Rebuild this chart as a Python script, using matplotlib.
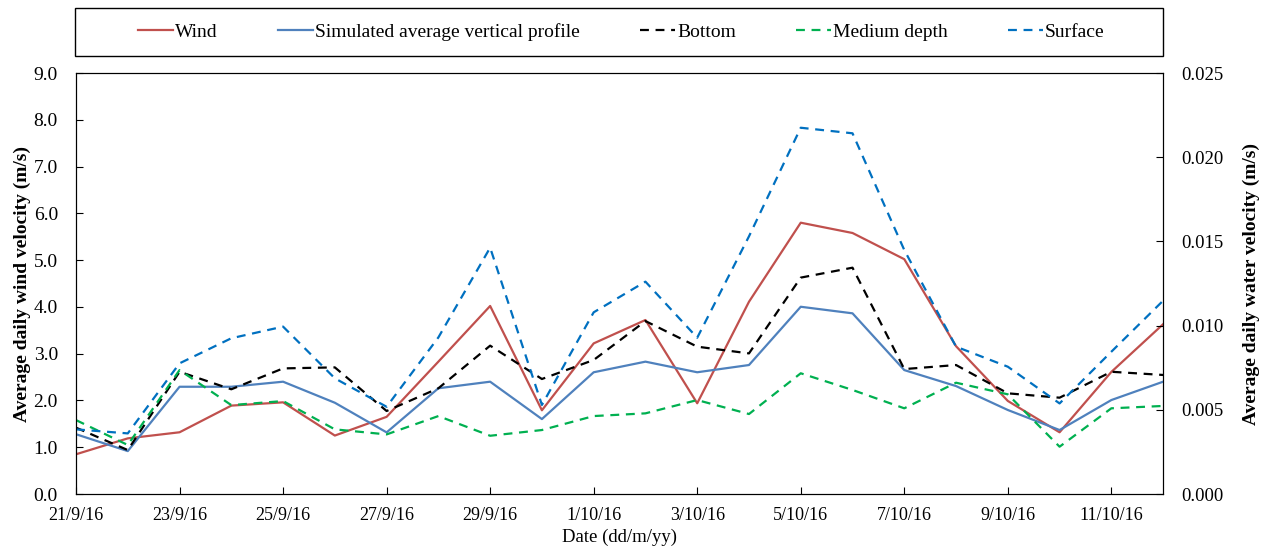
import matplotlib.pyplot as plt
from matplotlib.patches import Rectangle
import numpy as np

plt.rcParams['font.family'] = ['Liberation Serif', 'DejaVu Serif']

# Daily dates (21/9/16 to 12/10/16)
dates = ["21/9/16", "22/9/16", "23/9/16", "24/9/16", "25/9/16", "26/9/16", "27/9/16",
         "28/9/16", "29/9/16", "30/9/16", "1/10/16", "2/10/16", "3/10/16", "4/10/16",
         "5/10/16", "6/10/16", "7/10/16", "8/10/16", "9/10/16", "10/10/16", "11/10/16",
         "12/10/16"]

# Wind velocity (m/s), left axis
wind = [0.85, 1.19, 1.32, 1.89, 1.96, 1.25, 1.65, 2.83, 4.02, 1.79, 3.22, 3.72,
        1.94, 4.11, 5.80, 5.58, 5.02, 3.16, 1.99, 1.32, 2.61, 3.63]

# Water velocity (m/s), right axis
simulated = [0.00355, 0.00255, 0.00637, 0.00637, 0.00667, 0.00542, 0.00366, 0.00628,
             0.00667, 0.00445, 0.00723, 0.00786, 0.00723, 0.00766, 0.01112, 0.01073,
             0.00736, 0.00641, 0.00499, 0.00380, 0.00558, 0.00667]
bottom = [0.00394, 0.00261, 0.00726, 0.00622, 0.00746, 0.00752, 0.00493, 0.00628,
          0.00881, 0.00683, 0.00796, 0.01027, 0.00875, 0.00835, 0.01285, 0.01344,
          0.00742, 0.00766, 0.00598, 0.00572, 0.00726, 0.00707]
medium = [0.00439, 0.00291, 0.00736, 0.00528, 0.00552, 0.00384, 0.00354, 0.00463,
          0.00346, 0.00380, 0.00463, 0.00479, 0.00558, 0.00475, 0.00717, 0.00618,
          0.00509, 0.00661, 0.00592, 0.00281, 0.00509, 0.00523]
surface = [0.00384, 0.00360, 0.00776, 0.00925, 0.00994, 0.00687, 0.00518, 0.00930,
           0.01463, 0.00529, 0.01079, 0.01261, 0.00928, 0.01530, 0.02175, 0.02142,
           0.01449, 0.00875, 0.00756, 0.00538, 0.00845, 0.01148]

x = np.arange(len(dates))

fig = plt.figure(figsize=(12.67, 5.51), dpi=100)
ax = fig.add_axes([0.060, 0.1034, 0.858, 0.7641])
ax2 = ax.twinx()

l1, = ax.plot(x, wind, color="#C0504D", linewidth=1.6, label="Wind")
l2, = ax2.plot(x, simulated, color="#4F81BD", linewidth=1.6, label="Simulated average vertical profile")
l3, = ax2.plot(x, bottom, color="black", linewidth=1.6, linestyle=(0, (4, 3)), label="Bottom")
l4, = ax2.plot(x, medium, color="#00B050", linewidth=1.6, linestyle=(0, (4, 3)), label="Medium depth")
l5, = ax2.plot(x, surface, color="#0070C0", linewidth=1.6, linestyle=(0, (4, 3)), label="Surface")

ax.set_xlim(0, len(dates) - 1)
ax.set_ylim(0, 9)
ax2.set_ylim(0, 0.025)
ax.set_yticks(np.arange(0, 9.1, 1.0))
ax.set_yticklabels([f"{v:.1f}" for v in np.arange(0, 9.1, 1.0)])
ax2.set_yticks(np.arange(0, 0.0251, 0.005))
ax2.set_yticklabels([f"{v:.3f}" for v in np.arange(0, 0.0251, 0.005)])
ax.set_xticks(x[::2])
ax.set_xticklabels(dates[::2])

ax.tick_params(axis="y", direction="in", labelsize=14, length=5, pad=13)
ax.tick_params(axis="x", direction="in", labelsize=13, length=5, pad=9.5)
ax2.tick_params(axis="y", direction="in", labelsize=13.5, length=5, pad=13)

ax.set_xlabel("Date (dd/m/yy)", fontsize=13.5, labelpad=3)
ax.set_ylabel("Average daily wind velocity (m/s)", fontsize=14, fontweight="bold", labelpad=2)
ax2.set_ylabel("Average daily water velocity (m/s)", fontsize=14, fontweight="bold", labelpad=14)

# legend box across the top
fig.patches.append(Rectangle((0.0592, 0.8984), 0.8587, 0.0871, transform=fig.transFigure,
                             fill=False, edgecolor="black", linewidth=1.0))
fig.legend(handles=[l1, l2, l3, l4, l5], loc="center", ncol=5,
           bbox_to_anchor=(0.4905, 0.942), fontsize=14, handlelength=1.8,
           handletextpad=0.1, columnspacing=3.1, frameon=False)

plt.savefig("out.png", dpi=100)
